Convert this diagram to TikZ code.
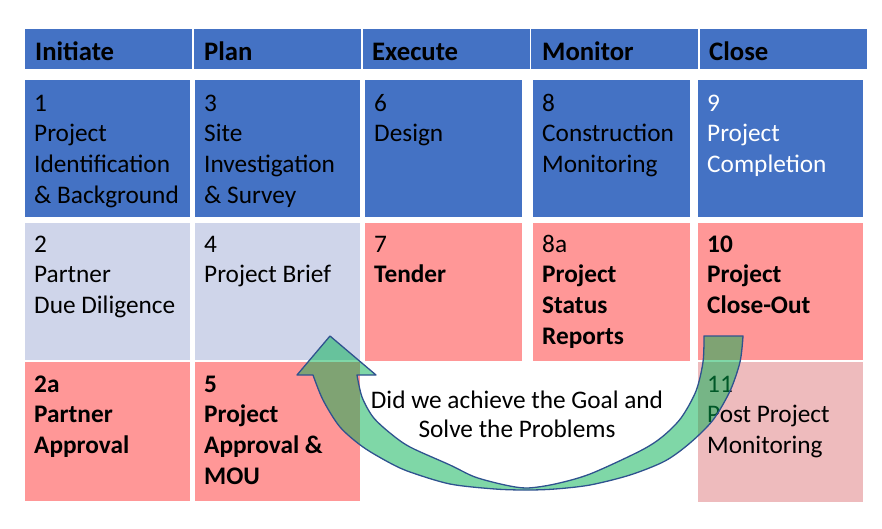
\documentclass[tikz,border=0pt]{standalone}
\usepackage{fontspec}
\setmainfont{Carlito}
\definecolor{phaseblue}{HTML}{4472C4}
\definecolor{lavender}{HTML}{CFD5EA}
\definecolor{salmon}{HTML}{FF9797}
\definecolor{palepink}{HTML}{EEBBBD}
\definecolor{arrowgreen}{HTML}{00B050}
\definecolor{arrowline}{HTML}{2F528F}
\begin{document}
\begin{tikzpicture}[x=1pt,y=-1pt,
  hdr/.style={anchor=north west, inner sep=0pt, align=left,
    font=\fontsize{26.7}{31}\selectfont\bfseries},
  txt/.style={anchor=north west, inner sep=0pt, align=left,
    font=\fontsize{25.3}{30.7}\selectfont},
  boldtxt/.style={txt, font=\fontsize{25.3}{30.7}\selectfont\bfseries},
  note/.style={anchor=north, inner sep=0pt, align=center,
    font=\fontsize{25.3}{29}\selectfont},
  loop arrow/.style={fill=arrowgreen, fill opacity=0.5, draw=arrowline,
    line width=1.3pt, line join=round}]
\useasboundingbox (0,0) rectangle (882,528);

% header row
\fill[phaseblue] (25,29) rectangle (192,69);
\fill[phaseblue] (194,29) rectangle (361,69);
\fill[phaseblue] (363,29) rectangle (530,69);
\fill[phaseblue] (531,29) rectangle (698,69);
\fill[phaseblue] (700,29) rectangle (867,69);

% first row of steps
\fill[phaseblue] (25,80) rectangle (190,217);
\fill[phaseblue] (195,80) rectangle (360,217);
\fill[phaseblue] (365,80) rectangle (522,217);
\fill[phaseblue] (533,80) rectangle (690,217);
\fill[phaseblue] (698,80) rectangle (863,217);

% second row of steps
\fill[lavender] (25,223) rectangle (190,360);
\fill[lavender] (195,223) rectangle (360,360);
\fill[salmon] (365,223) rectangle (522,361);
\fill[salmon] (533,223) rectangle (690,361);
\fill[salmon] (698,223) rectangle (863,360);

% third row of steps
\fill[salmon] (25,362) rectangle (190,501);
\fill[salmon] (195,362) rectangle (360,501);
\fill[palepink] (698,362) rectangle (863,502);

% phase titles (first baseline 22pt below the node top)
\node[hdr] (hInit) at (35,38) {\rule{0pt}{22pt}Initiate};
\node[hdr] (hPlan) at (204,38) {\rule{0pt}{22pt}Plan};
\node[hdr] (hExec) at (372,38) {\rule{0pt}{22pt}Execute};
\node[hdr] (hMon) at (542,38) {\rule{0pt}{22pt}Monitor};
\node[hdr] (hClose) at (709,38) {\rule{0pt}{22pt}Close};

% step texts
\node[txt] (s1) at (34,89) {\rule{0pt}{22pt}1\\Project\\Identification\\\& Background};
\node[txt] (s3) at (204,89) {\rule{0pt}{22pt}3\\Site\\Investigation\\\& Survey};
\node[txt] (s6) at (374,89) {\rule{0pt}{22pt}6\\Design};
\node[txt] (s8) at (542,89) {\rule{0pt}{22pt}8\\Construction\\Monitoring};
\node[txt, text=white] (s9) at (707,89) {\rule{0pt}{22pt}9\\Project\\Completion};

\node[txt] (s2) at (34,230) {\rule{0pt}{22pt}2\\Partner\\Due Diligence};
\node[txt] (s4) at (204,230) {\rule{0pt}{22pt}4\\Project Brief};
\node[txt] (s7) at (374,230) {\rule{0pt}{22pt}7\\\textbf{Tender}};
\node[txt] (s8a) at (542,230) {\rule{0pt}{22pt}8a\\\textbf{Project}\\\textbf{Status}\\\textbf{Reports}};
\node[boldtxt] (s10) at (707,230) {\rule{0pt}{22pt}10\\Project\\Close-Out};

\node[boldtxt] (s2a) at (34,370) {\rule{0pt}{22pt}2a\\Partner\\Approval};
\node[boldtxt] (s5) at (204,370) {\rule{0pt}{22pt}5\\Project\\Approval \&\\MOU};
\node[txt] (s11) at (707,370) {\rule{0pt}{22pt}11\\Post Project\\Monitoring};

% curved return arrow from Close-Out back to the Plan phase:
% inner edge and outer edge each run as one smooth curve through the bottom
\path[loop arrow] (330,336) -- (376,375) -- (357,375)
  -- plot[smooth] coordinates {(357,375) (362,397) (373,417) (390,433)
       (410,447) (450,465) (475,477) (505,485) (527,488) (555,484)
       (590,474) (640,451) (662,437) (681,418) (696,391) (703,362) (704,336)}
  -- (743,336)
  -- plot[smooth] coordinates {(743,336) (740,362) (730,391) (713,420)
       (690,443) (665,461) (630,475) (590,485) (555,489) (527,490)
       (495,489) (450,484) (410,472) (390,463) (363,447) (340,427)
       (323,400) (313,375)}
  -- (297,375) -- cycle;

\node[note] (question) at (517,386)
  {\rule{0pt}{22pt}Did we achieve the Goal and\\Solve the Problems};
\end{tikzpicture}
\end{document}
